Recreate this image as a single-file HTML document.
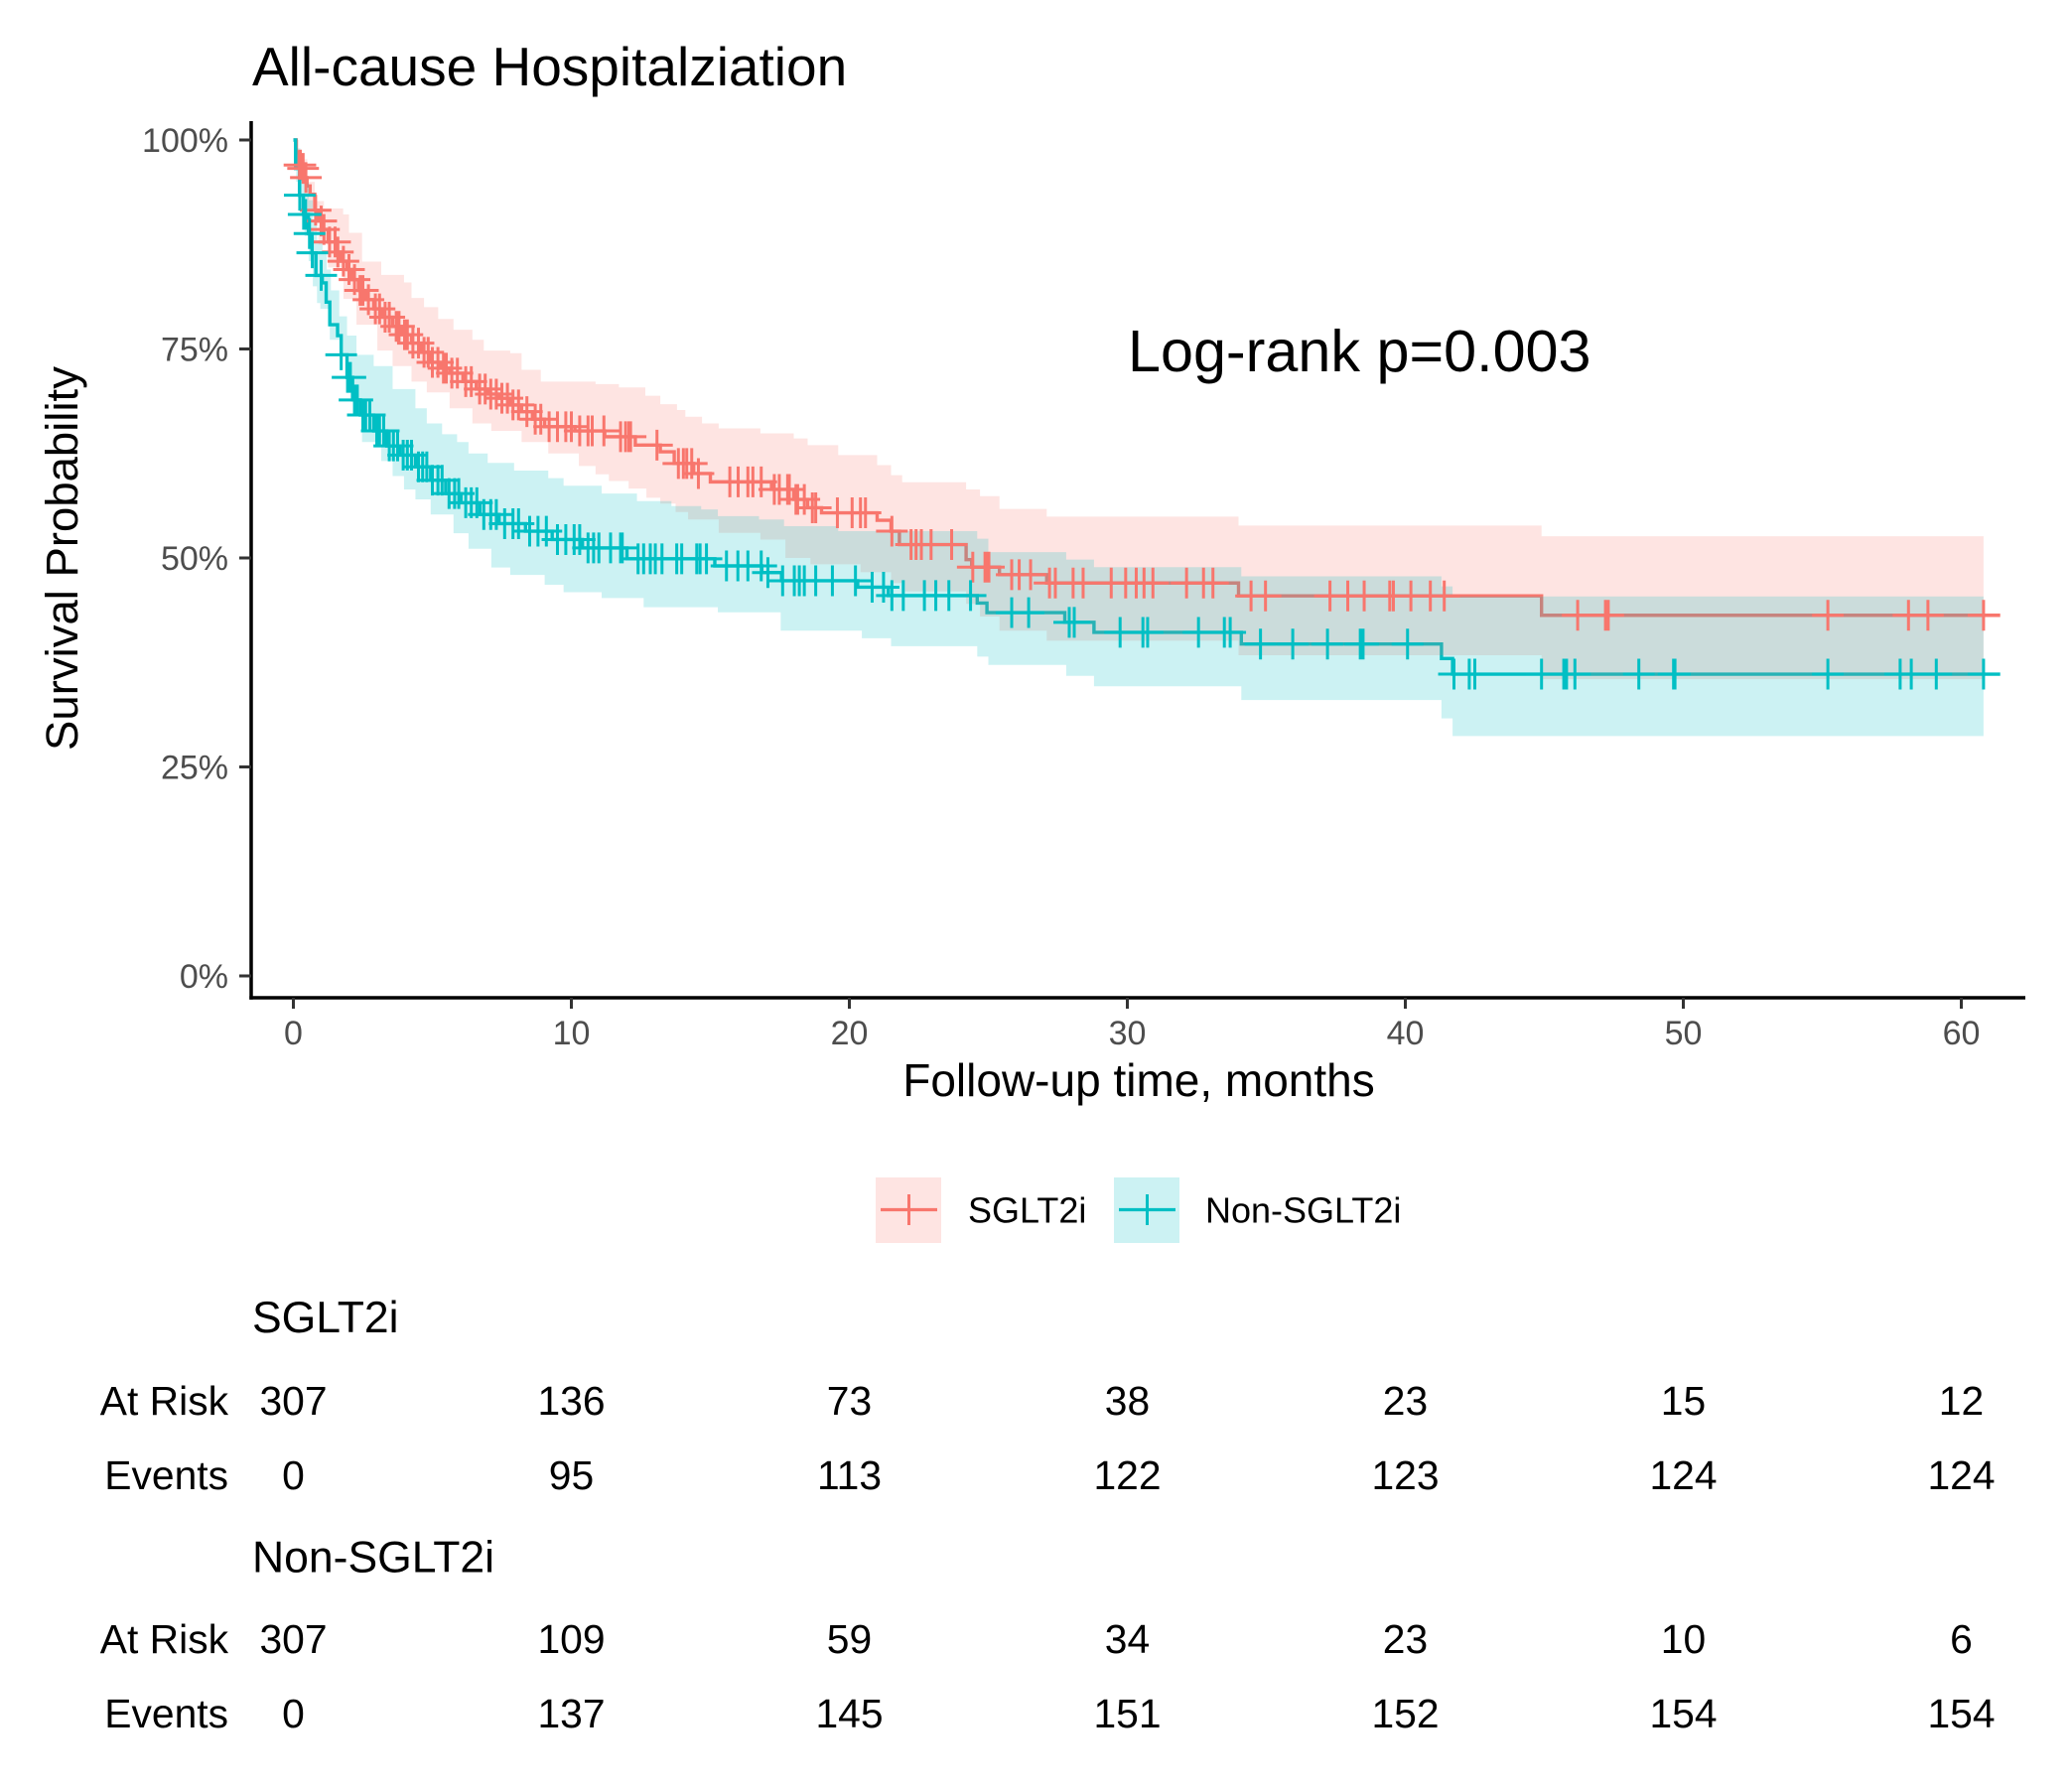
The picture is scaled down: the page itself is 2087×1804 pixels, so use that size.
<!DOCTYPE html>
<html><head><meta charset="utf-8"><style>html,body{margin:0;padding:0;background:#fff}svg{display:block}</style></head>
<body>
<svg xmlns="http://www.w3.org/2000/svg" width="2087" height="1804" viewBox="0 0 2087 1804" font-family="'Liberation Sans', Arial, Helvetica, sans-serif">
<rect width="2087" height="1804" fill="#fff"/>

<g transform="matrix(28,0,0,-8.42,295.5,983)">
<!-- survival lines -->
<path fill="none" stroke="#F8766D" stroke-width="3.4" vector-effect="non-scaling-stroke" d="M0,100 H0.1 V98.5 H0.2 V97 H0.29 V96.6 H0.4 V95.5 H0.49 V94.5 H0.6 V93.5 H0.77 V91.6 H0.9 V90.3 H1.04 V89.3 H1.25 V87.8 H1.52 V86.6 H1.7 V85.5 H1.93 V84.5 H2.1 V83.3 H2.34 V82 H2.6 V80.9 H2.89 V79.8 H3.2 V78.8 H3.57 V77.7 H3.9 V76.7 H4.25 V75.7 H4.6 V74.6 H4.94 V73.4 H5.3 V72.7 H5.62 V72.1 H6.1 V71.1 H6.58 V70.2 H7 V69.6 H7.4 V69.1 H7.8 V68.3 H8.21 V67.5 H8.6 V66.6 H9.04 V65.7 H10.13 V65.2 H11.2 V64.5 H12.3 V63.5 H13.2 V62.7 H13.7 V61.3 H14.4 V60.1 H15 V59.1 H17.2 V58.2 H18 V57 H18.5 V56 H19 V55.4 H21 V54.5 H21.5 V53.2 H21.8 V51.6 H24.2 V49.8 H24.4 V48.9 H25.4 V48 H27.1 V47 H34 V45.46 H44.9 V43.14 H61.4"/>
<path fill="none" stroke="#00BFC4" stroke-width="3.4" vector-effect="non-scaling-stroke" d="M0,100 H0.08 V96.6 H0.22 V93.4 H0.36 V91.1 H0.54 V88.8 H0.67 V86.5 H0.81 V83.8 H1.04 V82.9 H1.18 V80.6 H1.31 V77.9 H1.59 V76.6 H1.72 V74.3 H1.93 V71.6 H2.13 V68.9 H2.41 V67.1 H2.89 V65.2 H3.36 V63.4 H3.84 V62.3 H4.39 V60.9 H4.94 V59.3 H5.48 V57.7 H6.03 V56.6 H6.71 V55.2 H7.4 V54.1 H8.35 V53.2 H9.31 V52.2 H10.4 V51.2 H12 V49.9 H15.16 V49.05 H16.85 V48.25 H17.56 V47.27 H20.3 V46.5 H21.4 V45.5 H24.6 V44.6 H24.95 V43.46 H27.75 V42.3 H28.8 V41.1 H34.1 V39.7 H41.3 V37.97 H41.7 V36.1 H61.4"/>

<!-- confidence ribbons -->
<path stroke="none" fill="#F8766D" fill-opacity="0.2" d="M0,100 H0.15 V97.7 H0.5 V95 H0.77 V92.7 H1.1 V91.8 H1.79 V91.1 H2 V88.9 H2.47 V85.45 H3.16 V83.86 H3.98 V82.95 H4.25 V81.1 H4.7 V80 H5.21 V78.6 H5.76 V77.3 H6.44 V76.1 H6.85 V74.8 H7.8 V74.5 H8.21 V72.5 H8.9 V71.1 H10.87 V70.8 H11.71 V70.4 H12.66 V69.4 H13.2 V68.4 H13.8 V67.7 H14.1 V66.9 H14.7 V66.1 H15.3 V65.5 H16.8 V64.9 H18 V64.3 H18.5 V63.5 H19.6 V62.3 H21 V61.1 H21.5 V59.9 H21.9 V59.05 H24.2 V58.2 H24.7 V57.4 H25.4 V55.87 H27.1 V54.95 H34 V53.87 H44.9 V52.6 H60.8 V35.5 H44.9 V38.36 H34 V40.1 H27.1 V41.3 H25.4 V43 H24.7 V44.5 H24.2 V46 H22 V47 H21.5 V48.3 H20.4 V49.25 H18.6 V50 H17.7 V52.2 H16.8 V53 H15.3 V54.6 H14.2 V55.5 H13.75 V56.5 H13.2 V57.2 H12.7 V58.3 H12.06 V59.2 H11.35 V60 H10.87 V61 H10.27 V62.5 H9.17 V63.86 H8.21 V65.2 H7.12 V66.1 H6.44 V67.9 H5.62 V69.8 H4.8 V71.1 H4.25 V72.95 H3.57 V74.8 H3.02 V77.9 H2.27 V81 H1.8 V84.76 H1.25 V87.5 H0.9 V91.5 H0.5 V96 H0.2 V100 H0 Z"/>
<path stroke="none" fill="#00BFC4" fill-opacity="0.2" d="M0,100 H0.1 V99 H0.25 V96.8 H0.4 V94.8 H0.55 V92.8 H0.7 V90.5 H0.85 V88 H1.05 V86.5 H1.2 V84.5 H1.35 V82 H1.65 V78.9 H1.93 V76.6 H2.27 V74.3 H2.89 V72.95 H3.57 V70.2 H4.39 V67.9 H4.8 V66.1 H5.35 V64.8 H5.89 V63.86 H6.3 V62.5 H6.99 V61.37 H7.94 V60.45 H9.17 V59.55 H9.72 V58.64 H11.09 V57.7 H12.36 V56.8 H13.6 V56.2 H14.67 V55.8 H15.27 V55 H16.75 V54.6 H17.65 V53.8 H19.6 V53.2 H24.6 V52.3 H25 V50.7 H27.8 V49.8 H28.8 V48.9 H34.1 V47.8 H41.3 V46.6 H41.7 V45.4 H60.8 V28.7 H41.7 V30.8 H41.3 V33 H34.1 V34.65 H28.8 V35.9 H27.8 V37.2 H25 V38.2 H24.6 V39.45 H21.5 V40.4 H20.45 V41.3 H17.53 V43.5 H15.27 V44.1 H12.6 V45.2 H11.09 V45.9 H9.72 V46.8 H9.04 V47.96 H7.8 V48.86 H7.12 V51.1 H6.3 V52.96 H5.76 V55.2 H4.94 V57 H4.39 V58.2 H3.98 V59.8 H3.57 V61.6 H3.16 V63.86 H2.47 V67.04 H2.2 V70.7 H2 V74.3 H1.79 V76.1 H1.31 V79.8 H0.97 V80.5 H0.85 V82.5 H0.7 V85.5 H0.55 V88.5 H0.4 V91.5 H0.25 V95 H0.1 V100 H0 Z"/>

<!-- censor marks SGLT2i -->
<path fill="none" stroke="#F8766D" stroke-width="3" vector-effect="non-scaling-stroke" d="M-0.35,97h1.14m-.57,1.84v-3.68M-0.32,97h1.14m-.57,1.84v-3.68M-0.22,96.6h1.14m-.57,1.84v-3.68M-0.12,95.5h1.14m-.57,1.84v-3.68M0.23,91.6h1.14m-.57,1.84v-3.68M0.43,90.3h1.14m-.57,1.84v-3.68M0.53,89.3h1.14m-.57,1.84v-3.68M0.73,87.8h1.14m-.57,1.84v-3.68M0.93,87.8h1.14m-.57,1.84v-3.68M1.03,86.6h1.14m-.57,1.84v-3.68M1.23,85.5h1.14m-.57,1.84v-3.68M1.43,84.5h1.14m-.57,1.84v-3.68M1.63,83.3h1.14m-.57,1.84v-3.68M1.83,82h1.14m-.57,1.84v-3.68M1.93,82h1.14m-.57,1.84v-3.68M2.13,80.9h1.14m-.57,1.84v-3.68M2.38,79.8h1.14m-.57,1.84v-3.68M2.53,79.8h1.14m-.57,1.84v-3.68M2.73,78.8h1.14m-.57,1.84v-3.68M2.88,78.8h1.14m-.57,1.84v-3.68M3.13,77.7h1.14m-.57,1.84v-3.68M3.23,77.7h1.14m-.57,1.84v-3.68M3.43,76.7h1.14m-.57,1.84v-3.68M3.53,76.7h1.14m-.57,1.84v-3.68M3.73,75.7h1.14m-.57,1.84v-3.68M3.93,75.7h1.14m-.57,1.84v-3.68M4.13,74.6h1.14m-.57,1.84v-3.68M4.28,74.6h1.14m-.57,1.84v-3.68M4.43,73.4h1.14m-.57,1.84v-3.68M4.63,73.4h1.14m-.57,1.84v-3.68M4.83,72.7h1.14m-.57,1.84v-3.68M4.93,72.7h1.14m-.57,1.84v-3.68M5.13,72.1h1.14m-.57,1.84v-3.68M5.33,72.1h1.14m-.57,1.84v-3.68M5.63,71.1h1.14m-.57,1.84v-3.68M5.83,71.1h1.14m-.57,1.84v-3.68M6.13,70.2h1.14m-.57,1.84v-3.68M6.33,70.2h1.14m-.57,1.84v-3.68M6.53,69.6h1.14m-.57,1.84v-3.68M6.73,69.6h1.14m-.57,1.84v-3.68M6.93,69.1h1.14m-.57,1.84v-3.68M7.13,69.1h1.14m-.57,1.84v-3.68M7.33,68.3h1.14m-.57,1.84v-3.68M7.53,68.3h1.14m-.57,1.84v-3.68M7.83,67.5h1.14m-.57,1.84v-3.68M8.13,66.6h1.14m-.57,1.84v-3.68M8.33,66.6h1.14m-.57,1.84v-3.68M8.63,65.7h1.14m-.57,1.84v-3.68M8.93,65.7h1.14m-.57,1.84v-3.68M9.23,65.7h1.14m-.57,1.84v-3.68M9.43,65.7h1.14m-.57,1.84v-3.68M9.73,65.2h1.14m-.57,1.84v-3.68M10.03,65.2h1.14m-.57,1.84v-3.68M10.18,65.2h1.14m-.57,1.84v-3.68M10.6,65.2h1.14m-.57,1.84v-3.68M11.2,64.5h1.14m-.57,1.84v-3.68M11.38,64.5h1.14m-.57,1.84v-3.68M11.5,64.5h1.14m-.57,1.84v-3.68M11.56,64.5h1.14m-.57,1.84v-3.68M12.51,63.5h1.14m-.57,1.84v-3.68M13.28,61.3h1.14m-.57,1.84v-3.68M13.46,61.3h1.14m-.57,1.84v-3.68M13.58,61.3h1.14m-.57,1.84v-3.68M13.76,61.3h1.14m-.57,1.84v-3.68M14,60.1h1.14m-.57,1.84v-3.68M15.13,59.1h1.14m-.57,1.84v-3.68M15.43,59.1h1.14m-.57,1.84v-3.68M15.78,59.1h1.14m-.57,1.84v-3.68M15.96,59.1h1.14m-.57,1.84v-3.68M16.26,59.1h1.14m-.57,1.84v-3.68M16.73,58.2h1.14m-.57,1.84v-3.68M16.91,58.2h1.14m-.57,1.84v-3.68M17.21,58.2h1.14m-.57,1.84v-3.68M17.27,58.2h1.14m-.57,1.84v-3.68M17.51,57h1.14m-.57,1.84v-3.68M17.57,57h1.14m-.57,1.84v-3.68M17.81,57h1.14m-.57,1.84v-3.68M18.1,56h1.14m-.57,1.84v-3.68M18.22,56h1.14m-.57,1.84v-3.68M19,55.4h1.14m-.57,1.84v-3.68M19.53,55.4h1.14m-.57,1.84v-3.68M19.83,55.4h1.14m-.57,1.84v-3.68M20.01,55.4h1.14m-.57,1.84v-3.68M20.96,53.2h1.14m-.57,1.84v-3.68M21.65,51.6h1.14m-.57,1.84v-3.68M21.83,51.6h1.14m-.57,1.84v-3.68M22.02,51.6h1.14m-.57,1.84v-3.68M22.37,51.6h1.14m-.57,1.84v-3.68M23.11,51.6h1.14m-.57,1.84v-3.68M23.87,48.9h1.14m-.57,1.84v-3.68M24.31,48.9h1.14m-.57,1.84v-3.68M24.38,48.9h1.14m-.57,1.84v-3.68M24.45,48.9h1.14m-.57,1.84v-3.68M25.27,48h1.14m-.57,1.84v-3.68M25.54,48h1.14m-.57,1.84v-3.68M25.95,48h1.14m-.57,1.84v-3.68M26.63,47h1.14m-.57,1.84v-3.68M26.84,47h1.14m-.57,1.84v-3.68M27.48,47h1.14m-.57,1.84v-3.68M27.84,47h1.14m-.57,1.84v-3.68M28.85,47h1.14m-.57,1.84v-3.68M29.37,47h1.14m-.57,1.84v-3.68M29.75,47h1.14m-.57,1.84v-3.68M30.03,47h1.14m-.57,1.84v-3.68M30.35,47h1.14m-.57,1.84v-3.68M31.56,47h1.14m-.57,1.84v-3.68M32.17,47h1.14m-.57,1.84v-3.68M32.51,47h1.14m-.57,1.84v-3.68M33.88,45.46h1.14m-.57,1.84v-3.68M34.4,45.46h1.14m-.57,1.84v-3.68M36.72,45.46h1.14m-.57,1.84v-3.68M37.36,45.46h1.14m-.57,1.84v-3.68M37.95,45.46h1.14m-.57,1.84v-3.68M38.87,45.46h1.14m-.57,1.84v-3.68M39,45.46h1.14m-.57,1.84v-3.68M39.63,45.46h1.14m-.57,1.84v-3.68M40.33,45.46h1.14m-.57,1.84v-3.68M40.83,45.46h1.14m-.57,1.84v-3.68M45.63,43.14h1.14m-.57,1.84v-3.68M46.63,43.14h1.14m-.57,1.84v-3.68M46.73,43.14h1.14m-.57,1.84v-3.68M54.63,43.14h1.14m-.57,1.84v-3.68M57.53,43.14h1.14m-.57,1.84v-3.68M58.23,43.14h1.14m-.57,1.84v-3.68M60.23,43.14h1.14m-.57,1.84v-3.68"/>

<!-- censor marks Non-SGLT2i -->
<path fill="none" stroke="#00BFC4" stroke-width="3" vector-effect="non-scaling-stroke" d="M-0.34,93.4h1.14m-.57,1.84v-3.68M-0.2,91.1h1.14m-.57,1.84v-3.68M-0.13,91.1h1.14m-.57,1.84v-3.68M0.01,88.8h1.14m-.57,1.84v-3.68M0.11,86.5h1.14m-.57,1.84v-3.68M0.43,83.8h1.14m-.57,1.84v-3.68M1.15,74.3h1.14m-.57,1.84v-3.68M1.38,71.6h1.14m-.57,1.84v-3.68M1.48,71.6h1.14m-.57,1.84v-3.68M1.63,68.9h1.14m-.57,1.84v-3.68M1.73,68.9h1.14m-.57,1.84v-3.68M1.93,67.1h1.14m-.57,1.84v-3.68M2.03,67.1h1.14m-.57,1.84v-3.68M2.18,67.1h1.14m-.57,1.84v-3.68M2.43,65.2h1.14m-.57,1.84v-3.68M2.53,65.2h1.14m-.57,1.84v-3.68M2.68,65.2h1.14m-.57,1.84v-3.68M2.88,63.4h1.14m-.57,1.84v-3.68M3.03,63.4h1.14m-.57,1.84v-3.68M3.18,63.4h1.14m-.57,1.84v-3.68M3.38,62.3h1.14m-.57,1.84v-3.68M3.53,62.3h1.14m-.57,1.84v-3.68M3.68,62.3h1.14m-.57,1.84v-3.68M3.93,60.9h1.14m-.57,1.84v-3.68M4.08,60.9h1.14m-.57,1.84v-3.68M4.23,60.9h1.14m-.57,1.84v-3.68M4.43,59.3h1.14m-.57,1.84v-3.68M4.63,59.3h1.14m-.57,1.84v-3.68M4.78,59.3h1.14m-.57,1.84v-3.68M5.03,57.7h1.14m-.57,1.84v-3.68M5.23,57.7h1.14m-.57,1.84v-3.68M5.38,57.7h1.14m-.57,1.84v-3.68M5.63,56.6h1.14m-.57,1.84v-3.68M5.83,56.6h1.14m-.57,1.84v-3.68M6.03,56.6h1.14m-.57,1.84v-3.68M6.28,55.2h1.14m-.57,1.84v-3.68M6.53,55.2h1.14m-.57,1.84v-3.68M6.73,55.2h1.14m-.57,1.84v-3.68M7.03,54.1h1.14m-.57,1.84v-3.68M7.33,54.1h1.14m-.57,1.84v-3.68M7.53,54.1h1.14m-.57,1.84v-3.68M7.93,53.2h1.14m-.57,1.84v-3.68M8.23,53.2h1.14m-.57,1.84v-3.68M8.53,53.2h1.14m-.57,1.84v-3.68M8.93,52.2h1.14m-.57,1.84v-3.68M9.23,52.2h1.14m-.57,1.84v-3.68M9.53,52.2h1.14m-.57,1.84v-3.68M9.73,52.2h1.14m-.57,1.84v-3.68M10.03,51.2h1.14m-.57,1.84v-3.68M10.23,51.2h1.14m-.57,1.84v-3.68M10.42,51.2h1.14m-.57,1.84v-3.68M10.84,51.2h1.14m-.57,1.84v-3.68M11.2,51.2h1.14m-.57,1.84v-3.68M11.26,51.2h1.14m-.57,1.84v-3.68M11.83,49.9h1.14m-.57,1.84v-3.68M12.03,49.9h1.14m-.57,1.84v-3.68M12.27,49.9h1.14m-.57,1.84v-3.68M12.45,49.9h1.14m-.57,1.84v-3.68M12.69,49.9h1.14m-.57,1.84v-3.68M13.22,49.9h1.14m-.57,1.84v-3.68M13.4,49.9h1.14m-.57,1.84v-3.68M13.94,49.9h1.14m-.57,1.84v-3.68M14.06,49.9h1.14m-.57,1.84v-3.68M14.29,49.9h1.14m-.57,1.84v-3.68M15.01,49.05h1.14m-.57,1.84v-3.68M15.42,49.05h1.14m-.57,1.84v-3.68M15.78,49.05h1.14m-.57,1.84v-3.68M16.26,49.05h1.14m-.57,1.84v-3.68M16.5,48.25h1.14m-.57,1.84v-3.68M17.03,47.27h1.14m-.57,1.84v-3.68M17.45,47.27h1.14m-.57,1.84v-3.68M17.63,47.27h1.14m-.57,1.84v-3.68M17.81,47.27h1.14m-.57,1.84v-3.68M18.22,47.27h1.14m-.57,1.84v-3.68M18.82,47.27h1.14m-.57,1.84v-3.68M19.65,47.27h1.14m-.57,1.84v-3.68M20.25,46.5h1.14m-.57,1.84v-3.68M20.66,46.5h1.14m-.57,1.84v-3.68M20.96,45.5h1.14m-.57,1.84v-3.68M21.37,45.5h1.14m-.57,1.84v-3.68M22.13,45.5h1.14m-.57,1.84v-3.68M22.54,45.5h1.14m-.57,1.84v-3.68M23.01,45.5h1.14m-.57,1.84v-3.68M23.79,45.5h1.14m-.57,1.84v-3.68M25.27,43.46h1.14m-.57,1.84v-3.68M25.88,43.46h1.14m-.57,1.84v-3.68M27.34,42.3h1.14m-.57,1.84v-3.68M27.52,42.3h1.14m-.57,1.84v-3.68M29.17,41.1h1.14m-.57,1.84v-3.68M29.99,41.1h1.14m-.57,1.84v-3.68M30.16,41.1h1.14m-.57,1.84v-3.68M31.99,41.1h1.14m-.57,1.84v-3.68M32.92,41.1h1.14m-.57,1.84v-3.68M33.13,41.1h1.14m-.57,1.84v-3.68M34.22,39.7h1.14m-.57,1.84v-3.68M35.38,39.7h1.14m-.57,1.84v-3.68M36.63,39.7h1.14m-.57,1.84v-3.68M37.81,39.7h1.14m-.57,1.84v-3.68M37.91,39.7h1.14m-.57,1.84v-3.68M39.51,39.7h1.14m-.57,1.84v-3.68M41.18,36.1h1.14m-.57,1.84v-3.68M41.73,36.1h1.14m-.57,1.84v-3.68M41.93,36.1h1.14m-.57,1.84v-3.68M44.33,36.1h1.14m-.57,1.84v-3.68M45.13,36.1h1.14m-.57,1.84v-3.68M45.23,36.1h1.14m-.57,1.84v-3.68M45.53,36.1h1.14m-.57,1.84v-3.68M47.83,36.1h1.14m-.57,1.84v-3.68M49.08,36.1h1.14m-.57,1.84v-3.68M49.13,36.1h1.14m-.57,1.84v-3.68M54.63,36.1h1.14m-.57,1.84v-3.68M57.23,36.1h1.14m-.57,1.84v-3.68M57.63,36.1h1.14m-.57,1.84v-3.68M58.53,36.1h1.14m-.57,1.84v-3.68M60.23,36.1h1.14m-.57,1.84v-3.68"/>
</g>

<!-- axes -->
<line x1="253" y1="122" x2="253" y2="1006.8" stroke="#000" stroke-width="3.5"/>
<line x1="251.3" y1="1005" x2="2040" y2="1005" stroke="#000" stroke-width="3.5"/>
<g stroke="#333" stroke-width="3">
<line x1="241" y1="141" x2="253" y2="141"/>
<line x1="241" y1="351.5" x2="253" y2="351.5"/>
<line x1="241" y1="562" x2="253" y2="562"/>
<line x1="241" y1="772.5" x2="253" y2="772.5"/>
<line x1="241" y1="983" x2="253" y2="983"/>
<line x1="295.5" y1="1005" x2="295.5" y2="1016"/>
<line x1="575.5" y1="1005" x2="575.5" y2="1016"/>
<line x1="855.5" y1="1005" x2="855.5" y2="1016"/>
<line x1="1135.5" y1="1005" x2="1135.5" y2="1016"/>
<line x1="1415.5" y1="1005" x2="1415.5" y2="1016"/>
<line x1="1695.5" y1="1005" x2="1695.5" y2="1016"/>
<line x1="1975.5" y1="1005" x2="1975.5" y2="1016"/>
</g>
<g fill="#4D4D4D" font-size="34" text-anchor="end">
<text x="230" y="153">100%</text>
<text x="230" y="363.5">75%</text>
<text x="230" y="574">50%</text>
<text x="230" y="784.5">25%</text>
<text x="230" y="995">0%</text>
</g>
<g fill="#4D4D4D" font-size="34" text-anchor="middle">
<text x="295.5" y="1052">0</text>
<text x="575.5" y="1052">10</text>
<text x="855.5" y="1052">20</text>
<text x="1135.5" y="1052">30</text>
<text x="1415.5" y="1052">40</text>
<text x="1695.5" y="1052">50</text>
<text x="1975.5" y="1052">60</text>
</g>

<!-- titles -->
<text x="254" y="86" font-size="55" fill="#000">All-cause Hospitalziation</text>
<text x="1147" y="1104" font-size="46" fill="#000" text-anchor="middle">Follow-up time, months</text>
<text transform="translate(78,562.5) rotate(-90)" font-size="45.5" fill="#000" text-anchor="middle">Survival Probability</text>
<text x="1136" y="374" font-size="59.3" fill="#000">Log-rank p=0.003</text>

<!-- legend -->
<rect x="882" y="1186" width="66" height="66" fill="#F8766D" fill-opacity="0.2"/>
<line x1="887" y1="1218.5" x2="944" y2="1218.5" stroke="#F8766D" stroke-width="3.2"/>
<line x1="915.5" y1="1203" x2="915.5" y2="1234" stroke="#F8766D" stroke-width="3"/>
<text x="975" y="1231.5" font-size="36" fill="#000">SGLT2i</text>
<rect x="1122" y="1186" width="66" height="66" fill="#00BFC4" fill-opacity="0.2"/>
<line x1="1127" y1="1218.5" x2="1184" y2="1218.5" stroke="#00BFC4" stroke-width="3.2"/>
<line x1="1155.5" y1="1203" x2="1155.5" y2="1234" stroke="#00BFC4" stroke-width="3"/>
<text x="1214" y="1231.5" font-size="36" fill="#000">Non-SGLT2i</text>

<!-- risk table -->
<g fill="#000">
<text x="254" y="1342" font-size="44.5">SGLT2i</text>
<text x="254" y="1583.5" font-size="44.5">Non-SGLT2i</text>
<g font-size="40.8" text-anchor="end">
<text x="230" y="1425">At Risk</text>
<text x="230" y="1500">Events</text>
<text x="230" y="1665">At Risk</text>
<text x="230" y="1740">Events</text>
</g>
<g font-size="40.8" text-anchor="middle">
<text x="295.5" y="1425">307</text><text x="575.5" y="1425">136</text><text x="855.5" y="1425">73</text><text x="1135.5" y="1425">38</text><text x="1415.5" y="1425">23</text><text x="1695.5" y="1425">15</text><text x="1975.5" y="1425">12</text>
<text x="295.5" y="1500">0</text><text x="575.5" y="1500">95</text><text x="855.5" y="1500">113</text><text x="1135.5" y="1500">122</text><text x="1415.5" y="1500">123</text><text x="1695.5" y="1500">124</text><text x="1975.5" y="1500">124</text>
<text x="295.5" y="1665">307</text><text x="575.5" y="1665">109</text><text x="855.5" y="1665">59</text><text x="1135.5" y="1665">34</text><text x="1415.5" y="1665">23</text><text x="1695.5" y="1665">10</text><text x="1975.5" y="1665">6</text>
<text x="295.5" y="1740">0</text><text x="575.5" y="1740">137</text><text x="855.5" y="1740">145</text><text x="1135.5" y="1740">151</text><text x="1415.5" y="1740">152</text><text x="1695.5" y="1740">154</text><text x="1975.5" y="1740">154</text>
</g>
</g>
</svg>
</body></html>
